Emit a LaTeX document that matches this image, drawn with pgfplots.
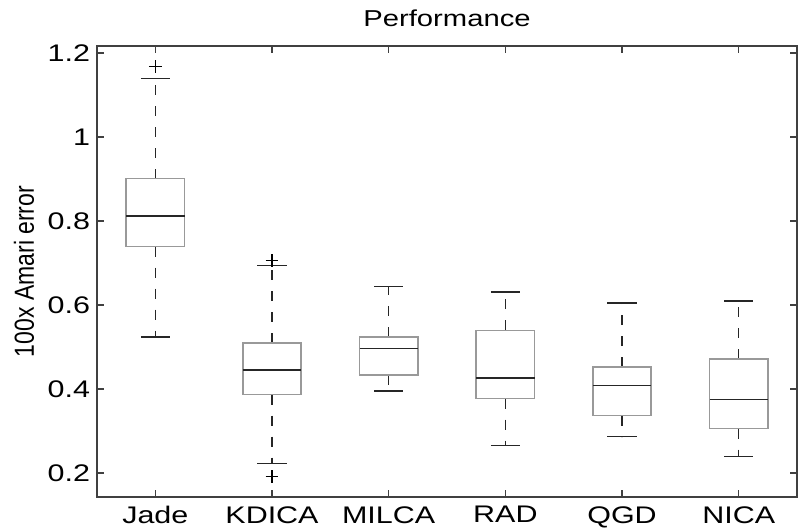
\documentclass[border=0pt]{standalone}
\usepackage{fontspec}
\setmainfont{Liberation Sans}
\usepackage{graphicx}
\usepackage{pgfplots}
\pgfplotsset{compat=1.18}
\usepgfplotslibrary{statistics}

% MATLAB figure looks stretched sideways
\newcommand{\wide}[1]{\scalebox{1.27}[1]{#1}}

\pgfplotsset{
  /pgfplots/boxplot/draw direction=y,
  /pgfplots/boxplot/box extend=0.5,
  /pgfplots/boxplot/whisker extend=0.25,
  /pgfplots/boxplot/every box/.style={draw=black!40, line width=0.75bp},
  /pgfplots/boxplot/every median/.style={draw=black!85, line width=0.75bp},
  /pgfplots/boxplot/draw/lower whisker/.code={
    \draw[black!85, line width=0.7bp, dash pattern=on 5bp off 5.5bp]
      (boxplot box cs:\pgfplotsboxplotvalue{lower quartile},0.5)
      -- (boxplot box cs:\pgfplotsboxplotvalue{lower whisker},0.5);
    \draw[black!85, line width=0.7bp]
      (boxplot whisker cs:\pgfplotsboxplotvalue{lower whisker},0)
      -- (boxplot whisker cs:\pgfplotsboxplotvalue{lower whisker},1);
  },
  /pgfplots/boxplot/draw/upper whisker/.code={
    \draw[black!85, line width=0.7bp, dash pattern=on 5bp off 5.5bp]
      (boxplot box cs:\pgfplotsboxplotvalue{upper quartile},0.5)
      -- (boxplot box cs:\pgfplotsboxplotvalue{upper whisker},0.5);
    \draw[black!85, line width=0.7bp]
      (boxplot whisker cs:\pgfplotsboxplotvalue{upper whisker},0)
      -- (boxplot whisker cs:\pgfplotsboxplotvalue{upper whisker},1);
  },
  boxstyle/.style={black, mark=+, mark size=3.2bp,
    mark options={solid, line width=0.55bp}},
}

\begin{document}
\begin{tikzpicture}
  \begin{axis}[
      scale only axis,
      width=350bp, height=225.5bp,
      xmin=0.5, xmax=6.5,
      ymin=0.143, ymax=1.2167,
      xtick={1,2,3,4,5,6},
      xticklabels={\wide{Jade},\wide{KDICA},\wide{MILCA},\wide{RAD},\wide{QGD},\wide{NICA}},
      ytick={0.2,0.4,0.6,0.8,1,1.2},
      yticklabel={\wide{\pgfmathprintnumber{\tick}}},
      /pgf/number format/assume math mode=true,
      tick label style={font=\fontsize{12bp}{14bp}\selectfont},
      xticklabel style={anchor=north, inner sep=0pt, yshift=-4.5bp},
      tick align=inside,
      major tick length=3.5bp,
      tick style={black!75, line width=0.8bp},
      axis line style={black!75, line width=1bp},
      title={\wide{Performance}},
      every axis title/.style={at={(axis description cs:0.5,1)}, anchor=base,
        yshift=9.5bp, inner sep=0pt, font=\fontsize{11.5bp}{13bp}\selectfont},
      ylabel={\scalebox{1}[1.2]{100x Amari error}},
      ylabel style={at={(axis description cs:-0.1043,0.5)}, anchor=center,
        font=\fontsize{11.5bp}{13bp}\selectfont},
    ]
    % Jade
    \addplot[boxstyle, boxplot prepared={draw position=1,
        lower whisker=0.524, lower quartile=0.739, median=0.812,
        upper quartile=0.901, upper whisker=1.140}]
      coordinates {(0,1.167)};
    % KDICA
    \addplot[boxstyle, boxplot prepared={draw position=2,
        lower whisker=0.223, lower quartile=0.387, median=0.445,
        upper quartile=0.510, upper whisker=0.694}]
      coordinates {(0,0.706) (0,0.191)};
    % MILCA
    \addplot[boxstyle, boxplot prepared={draw position=3,
        lower whisker=0.395, lower quartile=0.433, median=0.496,
        upper quartile=0.524, upper whisker=0.644}]
      coordinates {};
    % RAD
    \addplot[boxstyle, boxplot prepared={draw position=4,
        lower whisker=0.265, lower quartile=0.377, median=0.426,
        upper quartile=0.540, upper whisker=0.631}]
      coordinates {};
    % QGD
    \addplot[boxstyle, boxplot prepared={draw position=5,
        lower whisker=0.287, lower quartile=0.337, median=0.408,
        upper quartile=0.452, upper whisker=0.605}]
      coordinates {};
    % NICA
    \addplot[boxstyle, boxplot prepared={draw position=6,
        lower whisker=0.239, lower quartile=0.306, median=0.375,
        upper quartile=0.472, upper whisker=0.610}]
      coordinates {};
  \end{axis}
  \pgfresetboundingbox
  \path[use as bounding box]
    ([shift={(-48.5bp,-15bp)}]current axis.south west)
    rectangle ([shift={(1bp,23bp)}]current axis.north east);
\end{tikzpicture}
\end{document}
